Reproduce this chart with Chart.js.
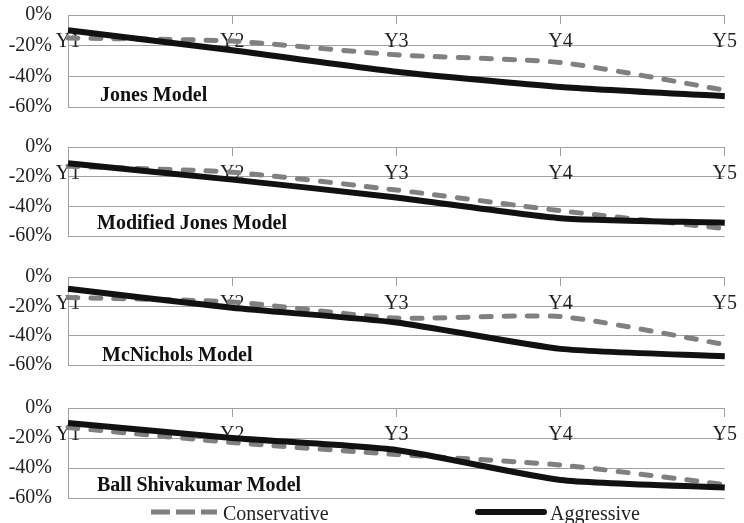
<!DOCTYPE html>
<html lang="en">
<head>
<meta charset="UTF-8">
<title>Conservative vs Aggressive by accrual model</title>
<script src="https://cdn.jsdelivr.net/npm/chart.js"></script>
<style>
  body { margin: 0; background: #fff; }
  #wrap { position: relative; width: 744px; height: 523px; overflow: hidden; font-family: "Liberation Serif", "Times New Roman", serif; }
  .panel { position: absolute; left: 0; width: 744px; }
  .title { position: absolute; font-weight: bold; font-size: 20px; line-height: 20px; color: #111; white-space: nowrap; }
  .legend-text { position: absolute; font-size: 20px; line-height: 20px; color: #222; white-space: nowrap; }
  .legend-line { position: absolute; }
</style>
</head>
<body>
<div id="wrap"></div>
<script>
// data (percent)
const categories = ['Y1', 'Y2', 'Y3', 'Y4', 'Y5'];
const models = ['Jones Model', 'Modified Jones Model', 'McNichols Model', 'Ball Shivakumar Model'];
const yTicks = [0, -20, -40, -60];

const jonesConservative = [-15, -17, -26, -31, -49];
const jonesAggressive   = [-10, -23, -37, -47, -53];
const modJonesConservative = [-13, -17, -29, -43, -55];
const modJonesAggressive   = [-11, -22, -34, -48, -51];
const mcNicholsConservative = [-14, -17, -28, -27, -46];
const mcNicholsAggressive   = [-8, -21, -31, -49, -54];
const ballConservative = [-13, -23, -31, -38, -51];
const ballAggressive   = [-10, -20, -28, -48, -53];

const seriesConservative = [jonesConservative, modJonesConservative, mcNicholsConservative, ballConservative];
const seriesAggressive = [jonesAggressive, modJonesAggressive, mcNicholsAggressive, ballAggressive];

// layout: where each plot area should sit on the page
const areaTop = [15, 147, 277, 408];
const areaBottom = [107, 236, 365, 498];
const titleLeft = [100, 97, 102, 97];
const titleBaseline = [101, 229, 361, 491];

const gridColor = '#a0a0a0';
const serif = '"Liberation Serif", "Times New Roman", serif';
const wrap = document.getElementById('wrap');

function makeConfig(i) {
    return {
        type: 'line',
        data: {
            labels: categories,
            datasets: [{
                label: 'Conservative',
                data: seriesConservative[i],
                borderColor: '#808080',
                borderWidth: 5,
                borderDash: [10, 13],
                borderCapStyle: 'round',
                tension: 0.2,
                pointRadius: 0,
                order: 1
            }, {
                label: 'Aggressive',
                data: seriesAggressive[i],
                borderColor: '#111111',
                borderWidth: 6,
                tension: 0.2,
                pointRadius: 0,
                order: 0
            }]
        },
        options: {
            responsive: false,
            maintainAspectRatio: false,
            animation: false,
            layout: { padding: { top: 0, bottom: 0, left: 0, right: 17 } },
            plugins: { legend: { display: false }, tooltip: { enabled: false } },
            scales: {
                x: {
                    type: 'category',
                    position: { y: 0 },
                    offset: false,
                    grid: { drawOnChartArea: false, drawTicks: true, tickLength: 8, color: gridColor },
                    border: { display: true, color: gridColor },
                    ticks: { font: { family: serif, size: 20 }, color: '#222', padding: 7, maxRotation: 0, autoSkip: false }
                },
                y: {
                    min: -60,
                    max: 0,
                    afterBuildTicks: (scale) => { scale.ticks = yTicks.map(v => ({ value: v })); },
                    afterFit: (scale) => { scale.width = 68; },
                    grid: { color: gridColor, drawTicks: false },
                    border: { display: true, color: gridColor },
                    ticks: { font: { family: serif, size: 20 }, color: '#222', padding: 16, callback: v => v + '%' }
                }
            }
        }
    };
}

models.forEach((name, i) => {
    const box = document.createElement('div');
    box.className = 'panel';
    wrap.appendChild(box);

    // first pass: measure how much room the axes take above and below the plot area
    let canvas = document.createElement('canvas');
    canvas.width = 744;
    canvas.height = 150;
    box.appendChild(canvas);
    let chart = new Chart(canvas.getContext('2d'), makeConfig(i));
    const insetTop = chart.chartArea.top;
    const insetBottom = 150 - chart.chartArea.bottom;
    chart.destroy();
    box.removeChild(canvas);

    // second pass: canvas sized so the plot area lands where the reference has it
    const h = areaBottom[i] - areaTop[i] + insetTop + insetBottom;
    canvas = document.createElement('canvas');
    canvas.width = 744;
    canvas.height = h;
    box.style.height = h + 'px';
    box.style.top = (areaTop[i] - insetTop) + 'px';
    box.appendChild(canvas);
    new Chart(canvas.getContext('2d'), makeConfig(i));

    const t = document.createElement('div');
    t.className = 'title';
    t.textContent = name;
    t.style.left = titleLeft[i] + 'px';
    t.style.top = (titleBaseline[i] - 17) + 'px';
    wrap.appendChild(t);
});

// legend
function legendLine(left, dashed) {
    const ns = 'http://www.w3.org/2000/svg';
    const svg = document.createElementNS(ns, 'svg');
    svg.setAttribute('width', 72);
    svg.setAttribute('height', 12);
    svg.setAttribute('class', 'legend-line');
    svg.style.left = (left - 2) + 'px';
    svg.style.top = '506px';
    const ln = document.createElementNS(ns, 'line');
    ln.setAttribute('x1', 3); ln.setAttribute('x2', 69);
    ln.setAttribute('y1', 6); ln.setAttribute('y2', 6);
    if (dashed) {
        ln.setAttribute('stroke', '#808080');
        ln.setAttribute('stroke-width', 5);
        ln.setAttribute('stroke-dasharray', '19 6');
    } else {
        ln.setAttribute('stroke', '#111');
        ln.setAttribute('stroke-width', 6);
        ln.setAttribute('stroke-linecap', 'round');
    }
    svg.appendChild(ln);
    wrap.appendChild(svg);
}
function legendText(left, text) {
    const d = document.createElement('div');
    d.className = 'legend-text';
    d.style.left = left + 'px';
    d.style.top = '503px';
    d.textContent = text;
    wrap.appendChild(d);
}
legendLine(150, true);
legendText(223, 'Conservative');
legendLine(477, false);
legendText(550, 'Aggressive');
</script>
</body>
</html>
